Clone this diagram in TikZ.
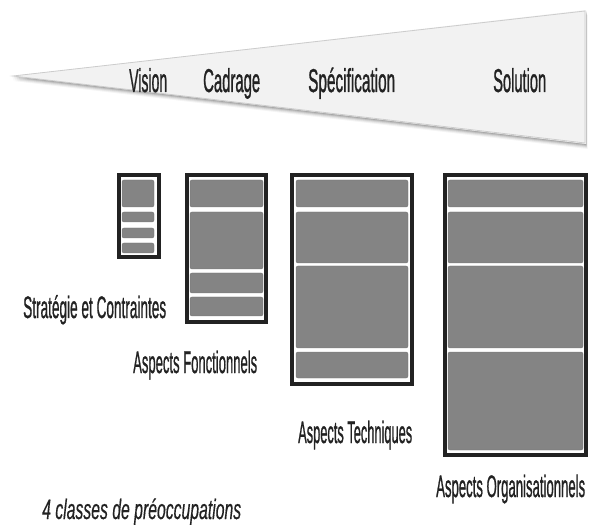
\documentclass[tikz,border=0pt]{standalone}
\usepackage{fontspec}
\setmainfont{Liberation Sans}
\newfontfamily\labelfont{Liberation Sans}[FakeBold=1.3]
\newfontfamily\notefont{Liberation Sans}[FakeBold=0.6]
\usepackage{graphicx}
\definecolor{panegray}{HTML}{848484}
\definecolor{wedgefill}{HTML}{F2F2F2}
\definecolor{ink}{HTML}{222222}
% squeeze a label horizontally to a given width, height unchanged
\newcommand{\squeeze}[2]{\resizebox{#1}{\height}{#2}}
\tikzset{
  frame/.style={draw=ink, line width=4pt},
  pane/.style={fill=panegray, draw=panegray!88!black, line width=0.4pt, rounded corners=2pt},
  lbl/.style={inner sep=0pt, anchor=base west, text=ink, font=\labelfont\fontsize{31}{31}\selectfont},
  stage/.style={lbl, font=\labelfont\fontsize{33}{33}\selectfont},
}
\begin{document}
\begin{tikzpicture}[x=1pt,y=-1pt]
\useasboundingbox (0,0) rectangle (594,526);

% funnel wedge with a soft shadow under its lower edge
\foreach \d/\o in {5/0.04,4/0.06,3/0.08,2/0.10,1/0.12}
  \fill[black, opacity=\o] ({12+0.3*\d},{76+\d}) -- ({586+0.3*\d},{10+\d}) -- ({586+0.3*\d},{144+\d}) -- cycle;
\fill[wedgefill] (12,76) -- (586,10) -- (586,144) -- cycle;
\draw[black!20, line width=0.8pt] (13,76) -- (585,11) -- (585,143) -- cycle;

% phase names along the wedge
\node[stage] (vision)  at (129,92) {\squeeze{38pt}{Vision}};
\node[stage] (cadrage) at (203,92) {\squeeze{57pt}{Cadrage}};
\node[stage] (spec)    at (308,92) {\squeeze{87pt}{Spécification}};
\node[stage] (sol)     at (493,92) {\squeeze{53pt}{Solution}};

% column 1
\draw[frame] (119,175) rectangle (159,257);
\foreach \a/\b in {180/207,212/222,228/238,243/253}
  \draw[pane] (122,\a) rectangle (154,\b);
% column 2
\draw[frame] (187,175) rectangle (266,322);
\foreach \a/\b in {180/207,212/269,273/293,297/316}
  \draw[pane] (190,\a) rectangle (263,\b);
% column 3
\draw[frame] (292,175) rectangle (412,384);
\foreach \a/\b in {180/207,212/263,266/348,352/378}
  \draw[pane] (296,\a) rectangle (408,\b);
% column 4
\draw[frame] (445,175) rectangle (586,455);
\foreach \a/\b in {180/207,212/263,266/348,352/450}
  \draw[pane] (448,\a) rectangle (583,\b);

% concern labels
\node[lbl] (strat) at (23,318)  {\squeeze{143pt}{Stratégie et Contraintes}};
\node[lbl] (fonc)  at (133,373) {\squeeze{124pt}{Aspects Fonctionnels}};
\node[lbl] (tech)  at (298,443) {\squeeze{114pt}{Aspects Techniques}};
\node[lbl] (orga)  at (436,497) {\squeeze{149pt}{Aspects Organisationnels}};

\node[lbl, font=\notefont\fontsize{28}{28}\selectfont\itshape] (classes) at (42,519)
  {\squeeze{199pt}{4 classes de préoccupations}};
\end{tikzpicture}
\end{document}
